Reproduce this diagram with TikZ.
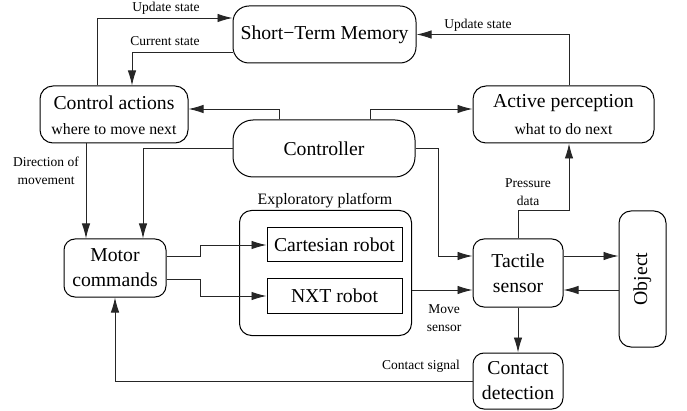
\documentclass[tikz,border=0pt]{standalone}
\usepackage{fontspec}
\setmainfont{LiberationSerif}[Extension=.ttf,UprightFont=*-Regular,BoldFont=*-Bold,ItalicFont=*-Italic]
\usetikzlibrary{arrows.meta,calc}
\begin{document}
\begin{tikzpicture}[x=1pt,y=-1pt,
  bigfont/.style={font=\rmfamily\fontsize{19.7}{25}\selectfont},
  rbox/.style={draw=black, line width=1pt, rounded corners=#1, align=center, inner sep=0pt, bigfont},
  rbox/.default=12pt,
  sbox/.style={draw=black, line width=1pt, align=center, inner sep=0pt, bigfont},
  lbl/.style={font=\rmfamily\fontsize{13.5}{18}\selectfont, align=center, inner sep=0pt},
  conn/.style={draw=black!85, line width=0.9pt, -{Latex[length=15pt,width=8.5pt]}}]
\useasboundingbox (0,0) rectangle (687,411);

% nodes
\node[rbox=16pt, minimum width=183pt, minimum height=57pt] (stm) at (324.5,34.5) {Short−Term Memory};
\node[rbox=13pt, minimum width=148pt, minimum height=57pt] (ca) at (114,114.5) {};
\node[bigfont] (cat) at (114,103) {Control actions};
\node[font=\rmfamily\fontsize{15.8}{18}\selectfont] (cas) at (114,129) {where to move next};
\node[rbox=13pt, minimum width=181pt, minimum height=57pt] (ap) at (563.5,114.5) {};
\node[bigfont] (apt) at (563.5,103) {Active perception};
\node[font=\rmfamily\fontsize{15.8}{18}\selectfont] (aps) at (563.5,129) {what to do next};
\node[rbox=20pt, minimum width=182pt, minimum height=57pt] (ctrl) at (324,148.5) {Controller};
\node[rbox=12pt, minimum width=172pt, minimum height=125pt] (plat) at (325.5,273) {};
\node[font=\rmfamily\fontsize{15.9}{18}\selectfont] (platl) at (325,201) {Exploratory platform};
\node[sbox, minimum width=135pt, minimum height=34pt] (cart) at (334.5,245) {Cartesian robot};
\node[sbox, minimum width=135pt, minimum height=34pt] (nxt) at (334.5,296) {NXT robot};
\node[rbox=11pt, minimum width=102pt, minimum height=58pt] (mc) at (115,268) {Motor\\commands};
\node[rbox=11pt, minimum width=90pt, minimum height=68pt] (ts) at (518,273) {Tactile\\sensor};
\node[rbox=12pt, minimum width=47pt, minimum height=136pt] (obj) at (642.5,279) {\rotatebox{90}{Object}};
\node[rbox=11pt, minimum width=90pt, minimum height=56pt] (cd) at (518,381) {Contact\\detection};

% labels
\node[lbl] (l1) at (166,8) {Update state};
\node[lbl] (l2) at (165,41) {Current state};
\node[lbl] (l3) at (478,25) {Update state};
\node[lbl] (l4) at (46,170.5) {Direction of\\movement};
\node[lbl] (l5) at (528,192.5) {Pressure\\data};
\node[lbl] (l6) at (444,318) {Move\\sensor};
\node[lbl] (l7) at (421,366) {Contact signal};

% connectors
\draw[conn] ([xshift=-17pt]ca.north) |- ([yshift=16.5pt]stm.west);
\draw[conn] ([yshift=-17.5pt]stm.west) -| ([xshift=18pt]ca.north);
\draw[conn] ([xshift=5.5pt]ap.north) |- (stm.east);
\draw[conn] ([xshift=-45pt]ctrl.north) |- ([yshift=5.5pt]ca.east);
\draw[conn] ([xshift=46pt]ctrl.north) |- ([yshift=5.5pt]ap.west);
\draw[conn] ([xshift=-28pt]ca.south) -- ([xshift=-29pt]mc.north);
\draw[conn] (ctrl.west) -| ([xshift=28pt]mc.north);
\draw[conn] (ctrl.east) -- ++(23,0) |- ([yshift=17pt]ts.west);
\draw[conn] (ts.north) -- ++(0,-28) -| ([xshift=5.5pt]ap.south);
\draw[conn] ([yshift=12pt]mc.east) -- ++(34,0) |- (cart.west);
\draw[conn] ([yshift=-11pt]mc.east) -- ++(34,0) |- (nxt.west);
\coordinate (m1) at ([yshift=-17pt]ts.west);
\draw[conn] (m1 -| plat.east) -- (m1);
\coordinate (t1) at ([yshift=17pt]ts.east);
\draw[conn] (t1) -- (t1 -| obj.west);
\coordinate (t2) at ([yshift=-17pt]ts.east);
\draw[conn] (t2 -| obj.west) -- (t2);
\draw[conn] (ts.south) -- (cd.north);
\draw[conn] (cd.west) -| (mc.south);
\end{tikzpicture}
\end{document}
